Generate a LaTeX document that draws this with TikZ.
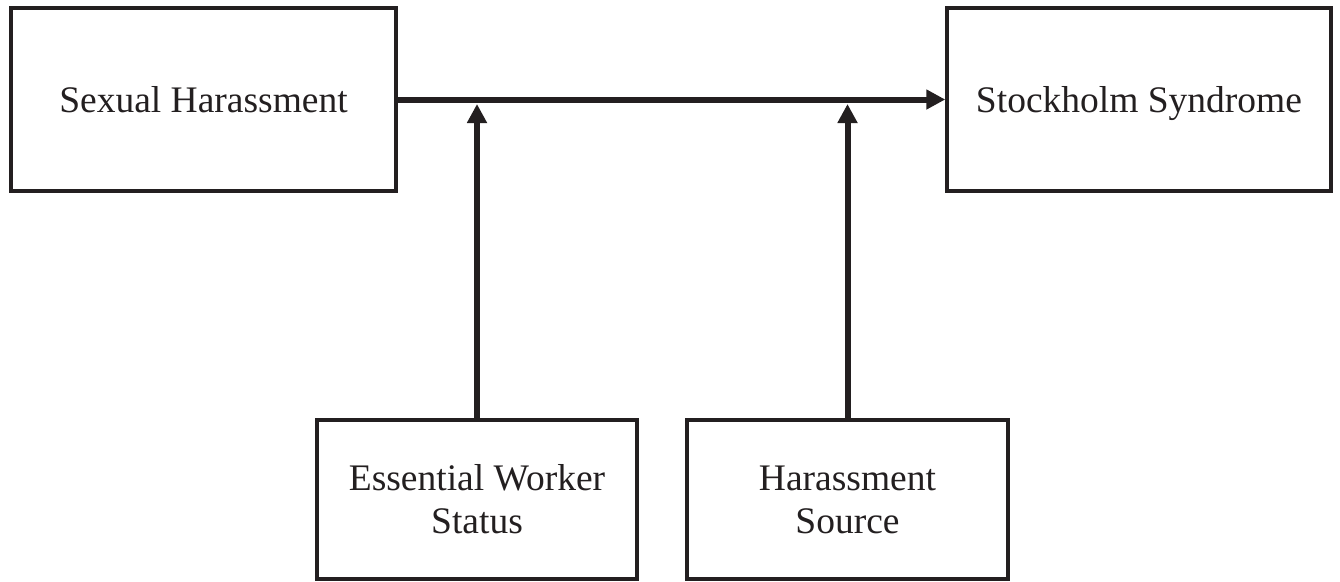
\documentclass[tikz,border=0pt]{standalone}
\usepackage{fontspec}
\setmainfont{Liberation Serif}
\usetikzlibrary{arrows.meta}
\definecolor{ink}{HTML}{231F20}
\begin{document}
\begin{tikzpicture}[x=1pt,y=-1pt,
  boxnode/.style={draw=ink, text=ink, line width=3.5pt, fill=white, inner sep=0pt,
     font=\fontsize{37.5}{43}\selectfont},
  onebox/.style={boxnode, text height=26pt, text depth=0pt},
  twobox/.style={boxnode, align=center},
  linkarrow/.style={line width=6pt, draw=ink, -{Triangle[length=19pt,width=19pt]}}]
\useasboundingbox (0,0) rectangle (1340,581);
\node[onebox, minimum width=385pt, minimum height=183pt] (sh) at (203.5,99.5) {Sexual Harassment};
\node[onebox, minimum width=384pt, minimum height=183pt] (ss) at (1139,99.5) {Stockholm Syndrome};
\node[twobox, minimum width=320pt, minimum height=159pt] (ew) at (477,499.5) {Essential Worker\\Status};
\node[twobox, minimum width=321pt, minimum height=159pt] (hs) at (847.5,499.5) {Harassment\\Source};
\coordinate (m1) at (477,104);
\coordinate (m2) at (847.5,104);
\draw[linkarrow] (sh.east) -- (ss.west);
\draw[linkarrow] (ew.north) -- (m1);
\draw[linkarrow] (hs.north) -- (m2);
\end{tikzpicture}
\end{document}
